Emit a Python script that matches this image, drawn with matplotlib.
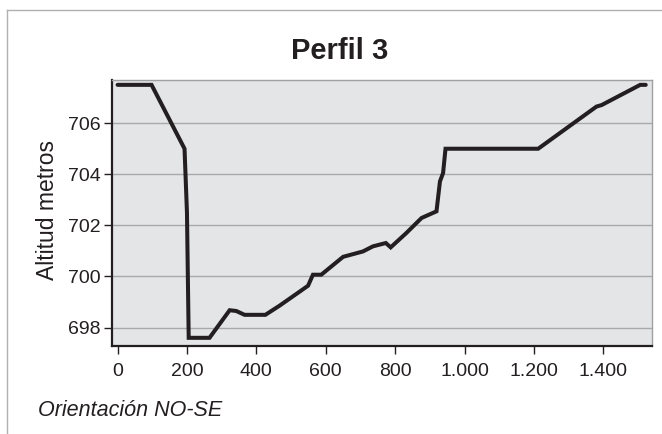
import matplotlib
matplotlib.use("Agg")
from matplotlib import pyplot as plt
from matplotlib.lines import Line2D
from matplotlib.ticker import FuncFormatter

plt.rcParams['font.family'] = ['Liberation Sans', 'DejaVu Sans']

# profile: distance along the section (m) and elevation (m)
distancia = [0, 98, 193, 200, 205, 265, 323, 342, 366, 426, 467, 526, 549, 563, 587,
             650, 707, 736, 773, 787, 832, 876, 919, 929, 938, 945, 1212, 1380,
             1395, 1506, 1522]
altitud = [707.5, 707.5, 705.0, 702.5, 697.6, 697.6, 698.68, 698.65, 698.5, 698.5,
           698.86, 699.42, 699.64, 700.07, 700.07, 700.77, 700.98, 701.18, 701.31,
           701.14, 701.70, 702.29, 702.55, 703.72, 704.05, 705.0, 705.0, 706.65,
           706.71, 707.5, 707.5]

x_ticks = [0, 200, 400, 600, 800, 1000, 1200, 1400]
y_ticks = [698, 700, 702, 704, 706]

W, H = 662, 434
fig = plt.figure(figsize=(W / 100, H / 100), dpi=100)
ax = fig.add_axes([112 / W, 1 - 346 / H, (652 - 112) / W, (346 - 80) / H])
ax.set_facecolor('#e4e5e7')

ax.plot(distancia, altitud, color='#231f20', lw=2.9, solid_capstyle='round',
        solid_joinstyle='miter', zorder=3)

ax.set_xlim(-16, 1540)
ax.set_ylim(697.28, 707.69)
ax.set_xticks(x_ticks)
ax.set_yticks(y_ticks)
# thousands separator as a dot
ax.xaxis.set_major_formatter(FuncFormatter(lambda v, p: f"{int(v):,}".replace(',', '.')))
ax.yaxis.grid(True, color='#a9a9a9', lw=1.0)
ax.set_axisbelow(True)

for s in ('top', 'right'):
    ax.spines[s].set_color('#a0a0a0')
    ax.spines[s].set_linewidth(1.0)
for s in ('left', 'bottom'):
    ax.spines[s].set_color('#231f20')
    ax.spines[s].set_linewidth(1.6)

ax.tick_params(axis='y', direction='out', length=6, width=1.0, color='#231f20',
               pad=2, labelsize=14, labelcolor='#231f20')
ax.tick_params(axis='x', direction='out', length=6, width=1.0, color='#231f20',
               pad=6, labelsize=14, labelcolor='#231f20')

fig.text(340 / W, 1 - 51 / H, 'Perfil 3', ha='center', va='center',
         fontsize=21, fontweight='bold', color='#231f20')
fig.text(48 / W, 1 - 210 / H, 'Altitud metros', ha='center', va='center',
         rotation=90, fontsize=16.5, color='#231f20')
fig.text(38 / W, 1 - 410 / H, 'Orientación NO-SE', ha='left', va='center',
         fontsize=15.5, style='italic', color='#231f20')

# outer frame of the panel
fig.add_artist(Line2D([7 / W, 7 / W], [0, 1 - 10 / H], color='#b0b0b0', lw=1.0))
fig.add_artist(Line2D([7 / W, 1], [1 - 10 / H, 1 - 10 / H], color='#b0b0b0', lw=1.0))

fig.savefig('out.png', dpi=100)
